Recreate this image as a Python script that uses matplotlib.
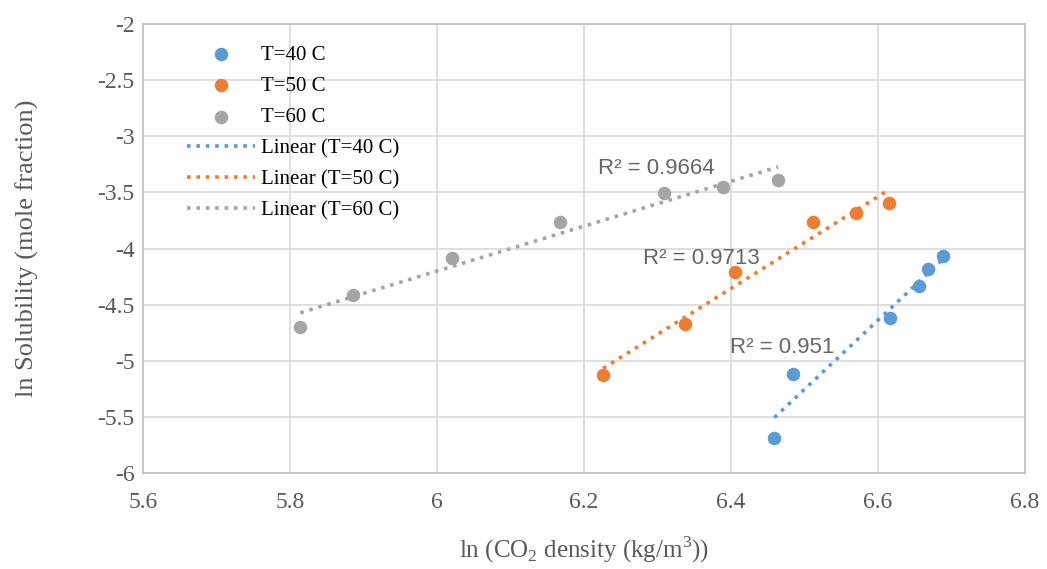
import matplotlib
matplotlib.use('Agg')
import matplotlib.pyplot as plt
import numpy as np

# ln(CO2 density) vs ln(solubility) for three temperatures
x_40 = [6.459, 6.484, 6.616, 6.656, 6.668, 6.688]
y_40 = [-5.688, -5.118, -4.619, -4.334, -4.183, -4.067]

x_50 = [6.226, 6.337, 6.405, 6.512, 6.570, 6.615]
y_50 = [-5.127, -4.673, -4.209, -3.764, -3.684, -3.595]

x_60 = [5.814, 5.886, 6.020, 6.167, 6.309, 6.389, 6.464]
y_60 = [-4.700, -4.414, -4.085, -3.764, -3.506, -3.450, -3.390]

labels = ['T=40 C', 'T=50 C', 'T=60 C']
colors = ['#5b9bd5', '#ed7d31', '#a5a5a5']
r2_text = ['R² = 0.951', 'R² = 0.9713', 'R² = 0.9664']
r2_pos = [(6.399, -4.886), (6.280, -4.085), (6.219, -3.283)]

serif = ['Liberation Serif', 'DejaVu Serif']

fig = plt.figure(figsize=(10.47, 5.69), dpi=100)
ax = fig.add_axes([0.1366, 0.1687, 0.8424, 0.7891])

series = [(x_40, y_40), (x_50, y_50), (x_60, y_60)]
pts = []
fits = []
for (xs, ys), lab, c in zip(series, labels, colors):
    p = ax.scatter(xs, ys, s=95, color=c, label=lab, zorder=3, linewidths=0)
    pts.append(p)
for (xs, ys), lab, c in zip(series, labels, colors):
    k, b = np.polyfit(xs, ys, 1)
    xx = np.array([min(xs), max(xs)])
    ln, = ax.plot(xx, k * xx + b, linestyle=(0, (1, 1.6)), linewidth=2.6,
                  color=c, label='Linear (%s)' % lab, zorder=2)
    fits.append(ln)

for txt, (tx, ty) in zip(r2_text, r2_pos):
    ax.text(tx, ty, txt, fontsize=16, color='#666666',
            family=['Liberation Sans', 'DejaVu Sans'], ha='left', va='center')

ax.set_xlim(5.6, 6.8)
ax.set_ylim(-6, -2)
ax.set_xticks(np.arange(5.6, 6.81, 0.2))
ax.set_yticks(np.arange(-6, -1.99, 0.5))
ax.set_xticklabels(['5.6', '5.8', '6', '6.2', '6.4', '6.6', '6.8'])
ax.set_yticklabels(['-6', '-5.5', '-5', '-4.5', '-4', '-3.5', '-3', '-2.5', '-2'])
ax.grid(True, color='#d9d9d9', linewidth=1.2)
ax.set_axisbelow(True)
for sp in ax.spines.values():
    sp.set_color('#bfbfbf')
    sp.set_linewidth(1.2)
ax.tick_params(length=0, labelsize=17, colors='#595959')
ax.tick_params(axis='y', pad=6)
ax.tick_params(axis='x', pad=14)
for t in ax.get_xticklabels() + ax.get_yticklabels():
    t.set_family(serif)

ax.set_xlabel(r'ln (CO$_{\mathregular{2}}$ density (kg/m$^{\mathregular{3}}$))',
              fontsize=18, color='#595959', family=serif, labelpad=15)
ax.set_ylabel('ln Solubility (mole fraction)', fontsize=19, color='#595959',
              family=serif, labelpad=42)

leg = ax.legend(handles=pts + fits, loc='upper left', bbox_to_anchor=(0.04, 0.972),
                frameon=False, prop={'family': serif, 'size': 15},
                handlelength=3.3, labelspacing=0.56, handletextpad=0.25,
                borderaxespad=0)

fig.savefig('out.png', dpi=100)
